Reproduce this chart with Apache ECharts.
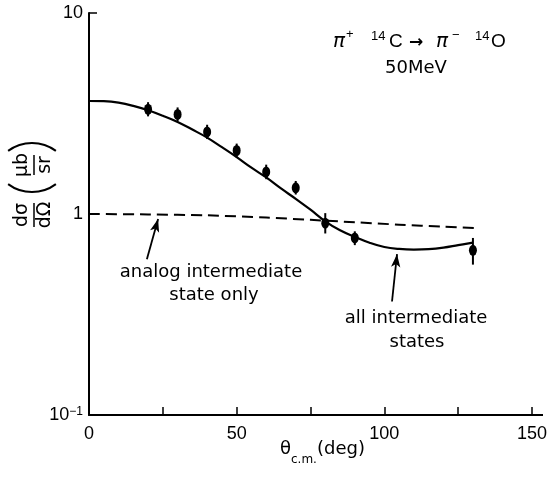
<!DOCTYPE html>
<html><head><meta charset="utf-8">
<script src="https://cdn.jsdelivr.net/npm/echarts@6/dist/echarts.min.js"></script>
<style>html,body{margin:0;padding:0;background:#fff}#c{width:553px;height:480px}</style>
</head><body><div id="c"></div>
<script>
// measured points
const angles   = [20, 30, 40, 50, 60, 70, 80, 90, 130];
const sigma    = [3.32, 3.13, 2.56, 2.07, 1.62, 1.35, 0.90, 0.76, 0.66];
const sigmaLo  = [3.06, 2.89, 2.36, 1.91, 1.49, 1.25, 0.80, 0.70, 0.56];
const sigmaHi  = [3.60, 3.39, 2.78, 2.24, 1.76, 1.46, 1.01, 0.82, 0.76];
// solid curve: all intermediate states
const allAngles = [0, 5, 10, 15, 20, 25, 30, 35, 40, 45, 50, 55, 60, 65, 70, 75, 80, 85, 90, 95, 100, 105, 110, 115, 120, 125, 130];
const allStates = [3.65, 3.64, 3.58, 3.45, 3.28, 3.08, 2.87, 2.63, 2.40, 2.15, 1.92, 1.70, 1.52, 1.34, 1.19, 1.05, 0.92, 0.83, 0.77, 0.72, 0.685, 0.67, 0.665, 0.668, 0.68, 0.70, 0.72];
// dashed curve: analog intermediate state only
const analogAngles = [0, 20, 40, 60, 75, 90, 105, 120, 132];
const analogOnly   = [1.0, 0.995, 0.985, 0.96, 0.935, 0.91, 0.885, 0.865, 0.85];
// axis ticks
const xMin = 0, xMax = 150, xStep = 25, xLabelStep = 50;
const yMin = 0.1, yMax = 10;
// annotation arrows (data coords)
const arrowAnalog = [[19.6, 0.596], [23.4, 0.944]];
const arrowAll    = [[102.6, 0.367], [104.3, 0.631]];

const chart = echarts.init(document.getElementById('c'), null, {renderer: 'canvas'});
const TXT = 'DejaVu Sans';
const NUM = 'Liberation Sans';

function t(x, y, text, font, extra) {
  return {type: 'text', x: x, y: y, style: Object.assign({text: text, font: font, align: 'left', verticalAlign: 'middle', fill: '#000'}, extra || {})};
}

const option = {
  backgroundColor: '#fff',
  animation: false,
  grid: {left: 89, right: 21, top: 13, bottom: 65},
  xAxis: {
    type: 'value', min: xMin, max: xMax, interval: xStep,
    axisLine: {lineStyle: {color: '#000', width: 2}},
    axisTick: {inside: true, length: 8, lineStyle: {color: '#000', width: 1.5}},
    axisLabel: {
      color: '#000', fontFamily: NUM, fontSize: 18, margin: 10,
      formatter: v => (v % xLabelStep === 0 ? String(v) : '')
    },
    splitLine: {show: false}
  },
  yAxis: {
    type: 'log', logBase: 10, min: yMin, max: yMax,
    axisLine: {lineStyle: {color: '#000', width: 2}},
    axisTick: {inside: true, length: 8, lineStyle: {color: '#000', width: 1.5}},
    minorTick: {show: false},
    axisLabel: {
      color: '#000', fontFamily: NUM, fontSize: 18, margin: 6,
      formatter: v => {
        if (Math.abs(v - 0.1) < 1e-9) return '{b|10}{e|−1}';
        return '{b|' + (Math.round(v)) + '}';
      },
      rich: {
        b: {fontFamily: NUM, fontSize: 18, color: '#000'},
        e: {fontFamily: NUM, fontSize: 12, color: '#000', verticalAlign: 'top', lineHeight: 12}
      }
    },
    splitLine: {show: false}
  },
  series: [
    {
      type: 'line', name: 'all', data: allAngles.map((a, i) => [a, allStates[i]]),
      smooth: 0.4, showSymbol: false, symbol: 'none',
      lineStyle: {color: '#000', width: 2.2}, z: 3,
      markLine: {
        silent: true, symbol: ['none', 'arrow'], symbolSize: [7, 13],
        label: {show: false},
        lineStyle: {color: '#000', width: 1.8, type: 'solid'},
        data: [
          [{coord: arrowAnalog[0]}, {coord: arrowAnalog[1]}],
          [{coord: arrowAll[0]}, {coord: arrowAll[1]}]
        ]
      }
    },
    {
      type: 'line', name: 'analog', data: analogAngles.map((a, i) => [a, analogOnly[i]]),
      smooth: 0.3, showSymbol: false, symbol: 'none',
      lineStyle: {color: '#000', width: 2, type: [11, 6]}, z: 3
    },
    {
      type: 'custom', name: 'err',
      data: angles.map((a, i) => [a, sigmaLo[i], sigmaHi[i]]),
      encode: {x: 0, y: [1, 2]},
      renderItem: (params, api) => {
        const x = api.value(0);
        const p1 = api.coord([x, api.value(1)]);
        const p2 = api.coord([x, api.value(2)]);
        return {type: 'line', shape: {x1: p1[0], y1: p1[1], x2: p2[0], y2: p2[1]},
                style: {stroke: '#000', lineWidth: 2}};
      }, z: 4
    },
    {
      type: 'scatter', name: 'data', data: angles.map((a, i) => [a, sigma[i]]),
      symbol: 'circle', symbolSize: [8, 11],
      itemStyle: {color: '#000', opacity: 1}, z: 5
    }
  ],
  graphic: [
    // x-axis line extension past 150
    {type: 'line', shape: {x1: 532, y1: 415, x2: 543, y2: 415}, style: {stroke: '#000', lineWidth: 2}},
    // title: pi+ 14C -> pi- 14O
    t(333, 42, 'π', 'italic 20px ' + TXT),
    t(346, 34, '+', '13px ' + NUM),
    t(371, 36, '14', '13px ' + NUM),
    t(389, 42, 'C', '19px ' + NUM),
    t(409, 43, '→', 'bold 17px ' + TXT),
    t(436, 42, 'π', 'italic 20px ' + TXT),
    t(452, 35, '−', '13px ' + NUM),
    t(475, 36, '14', '13px ' + NUM),
    t(491, 42, 'O', '19px ' + NUM),
    {type: 'text', x: 416, y: 68, style: {text: '50MeV', font: '18px ' + TXT, align: 'center', verticalAlign: 'middle', fill: '#000'}},
    // annotations
    {type: 'text', x: 211, y: 272, style: {text: 'analog intermediate', font: '18px ' + TXT, align: 'center', verticalAlign: 'middle', fill: '#000'}},
    {type: 'text', x: 214, y: 295, style: {text: 'state only', font: '18px ' + TXT, align: 'center', verticalAlign: 'middle', fill: '#000'}},
    {type: 'text', x: 416, y: 318, style: {text: 'all intermediate', font: '18px ' + TXT, align: 'center', verticalAlign: 'middle', fill: '#000'}},
    {type: 'text', x: 417, y: 342, style: {text: 'states', font: '18px ' + TXT, align: 'center', verticalAlign: 'middle', fill: '#000'}},
    // x axis title
    {type: 'text', left: 280, top: 440, style: {
      text: '{t|θ}{c|c.m.}{t|(deg)}',
      rich: {
        t: {fontFamily: TXT, fontSize: 18, lineHeight: 26, verticalAlign: 'top', fill: '#000'},
        c: {fontFamily: TXT, fontSize: 12, lineHeight: 26, verticalAlign: 'bottom', fill: '#000'}
      }
    }},
    // y axis title (rotated)
    {type: 'group', x: 33, y: 186, rotation: Math.PI / 2, children: [
      {type: 'text', x: -29, y: -1, style: {text: 'dσ', font: '19px ' + TXT, align: 'center', verticalAlign: 'bottom', fill: '#000'}},
      {type: 'line', shape: {x1: -41, y1: 1, x2: -17, y2: 1}, style: {stroke: '#000', lineWidth: 1.5}},
      {type: 'text', x: -29, y: 3, style: {text: 'dΩ', font: '19px ' + TXT, align: 'center', verticalAlign: 'top', fill: '#000'}},
      {type: 'arc', shape: {cx: 34, cy: -1, r: 40, startAngle: Math.PI - 0.64, endAngle: Math.PI + 0.64}, style: {stroke: '#000', lineWidth: 2, fill: null}},
      {type: 'text', x: 21, y: -1, style: {text: 'μb', font: '19px ' + TXT, align: 'center', verticalAlign: 'bottom', fill: '#000'}},
      {type: 'line', shape: {x1: 11, y1: 1, x2: 31, y2: 1}, style: {stroke: '#000', lineWidth: 1.5}},
      {type: 'text', x: 21, y: 3, style: {text: 'sr', font: '19px ' + TXT, align: 'center', verticalAlign: 'top', fill: '#000'}},
      {type: 'arc', shape: {cx: 3, cy: -1, r: 40, startAngle: -0.64, endAngle: 0.64}, style: {stroke: '#000', lineWidth: 2, fill: null}}
    ]}
  ]
};
chart.setOption(option);
</script>
</body></html>
